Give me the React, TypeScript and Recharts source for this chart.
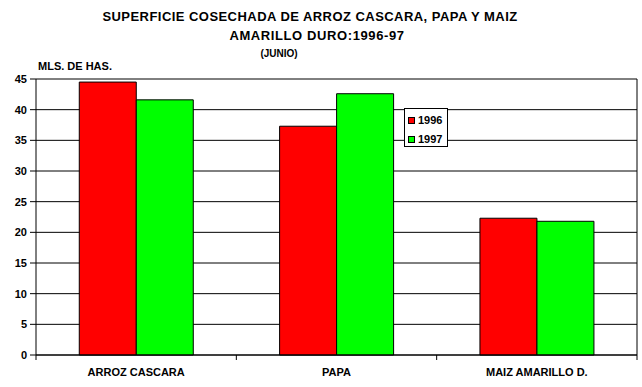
import React from "react";
import { BarChart, Bar, XAxis, YAxis, CartesianGrid, Legend } from "recharts";

const categories = ["ARROZ CASCARA", "PAPA", "MAIZ AMARILLO D."];
const values1996 = [44.5, 37.3, 22.3];
const values1997 = [41.6, 42.6, 21.8];
const yTicks = [0, 5, 10, 15, 20, 25, 30, 35, 40, 45];

const data = categories.map((name, i) => ({
  name,
  y1996: values1996[i],
  y1997: values1997[i],
}));

const font = '"Liberation Sans", Arial, sans-serif';

function LegendBox(props: any) {
  const items = props.payload || [];
  return (
    <div
      style={{
        width: 44,
        height: 39,
        boxSizing: "border-box",
        border: "1px solid #000",
        background: "#fff",
        padding: "1px 0 0 3px",
      }}
    >
      {items.map((e: any) => (
        <div
          key={e.value}
          style={{ display: "flex", alignItems: "center", height: 19 }}
        >
          <span
            style={{
              width: 7,
              height: 7,
              boxSizing: "border-box",
              border: "1px solid #000",
              background: e.color,
              marginRight: 3,
              marginTop: 2,
            }}
          />
          <span
            style={{
              fontFamily: font,
              fontWeight: "bold",
              fontSize: 11,
              color: "#000",
            }}
          >
            {e.value}
          </span>
        </div>
      ))}
    </div>
  );
}

// category label plus tick marks on the band edges (as in the old Excel chart)
function CategoryTick(props: any) {
  const { x, y, payload, index, visibleTicksCount } = props;
  const half = payload?.offset || 0;
  const last = index === (visibleTicksCount ?? categories.length) - 1;
  return (
    <g>
      <line x1={x - half} x2={x - half} y1={y} y2={y + 5} stroke="#000" />
      {last && (
        <line x1={x + half} x2={x + half} y1={y} y2={y + 5} stroke="#000" />
      )}
      <text
        x={x}
        y={y + 13}
        dy="0.71em"
        textAnchor="middle"
        fill="#000"
        fontSize={11}
        fontWeight="bold"
        fontFamily={font}
      >
        {payload.value}
      </text>
    </g>
  );
}

const textStyle = (
  top: number,
  cx: number,
  size: number,
  spacing = 0
): React.CSSProperties => ({
  position: "absolute",
  top,
  left: cx - 250,
  width: 500,
  textAlign: "center",
  fontSize: size,
  lineHeight: `${size}px`,
  fontWeight: "bold",
  letterSpacing: spacing,
  whiteSpace: "nowrap",
});

export default function App() {
  return (
    <div
      style={{
        position: "absolute",
        left: 0,
        top: 0,
        width: 642,
        height: 387,
        background: "#fff",
        fontFamily: font,
        color: "#000",
      }}
    >
      <div style={textStyle(10, 310, 13, 0.45)}>
        SUPERFICIE COSECHADA DE ARROZ CASCARA, PAPA Y MAIZ
      </div>
      <div style={textStyle(29, 317, 13, 0.6)}>AMARILLO DURO:1996-97</div>
      <div style={textStyle(49, 279, 10)}>(JUNIO)</div>
      <div
        style={{
          position: "absolute",
          top: 61,
          left: 38,
          fontSize: 11,
          lineHeight: "11px",
          fontWeight: "bold",
          whiteSpace: "nowrap",
        }}
      >
        MLS. DE HAS.
      </div>
      <BarChart
        width={642}
        height={387}
        data={data}
        margin={{ top: 79, right: 4, bottom: 0, left: 0 }}
        barGap={0}
        barCategoryGap="21.6%"
      >
        <CartesianGrid vertical={false} stroke="#000" strokeOpacity={1} />
        <XAxis
          dataKey="name"
          height={32}
          interval={0}
          tickLine={false}
          tickSize={0}
          tickMargin={0}
          axisLine={{ stroke: "#000" }}
          tick={<CategoryTick />}
        />
        <YAxis
          width={36}
          domain={[0, 45]}
          ticks={yTicks}
          interval={0}
          tickSize={6}
          tickMargin={3}
          stroke="#000"
          tick={{ fill: "#000", fontSize: 11, fontWeight: "bold", fontFamily: font }}
        />
        <YAxis
          yAxisId="right"
          orientation="right"
          width={1}
          domain={[0, 45]}
          allowDataOverflow
          tick={false}
          tickLine={false}
          stroke="#000"
        />
        <Legend
          layout="vertical"
          align="center"
          verticalAlign="middle"
          content={<LegendBox />}
          wrapperStyle={{ left: 404, top: 108, width: 44, height: 39 }}
        />
        <Bar
          dataKey="y1996"
          name="1996"
          fill="#ff0000"
          stroke="#000"
          strokeWidth={1}
          isAnimationActive={false}
        />
        <Bar
          dataKey="y1997"
          name="1997"
          fill="#00ff00"
          stroke="#000"
          strokeWidth={1}
          isAnimationActive={false}
        />
      </BarChart>
    </div>
  );
}
